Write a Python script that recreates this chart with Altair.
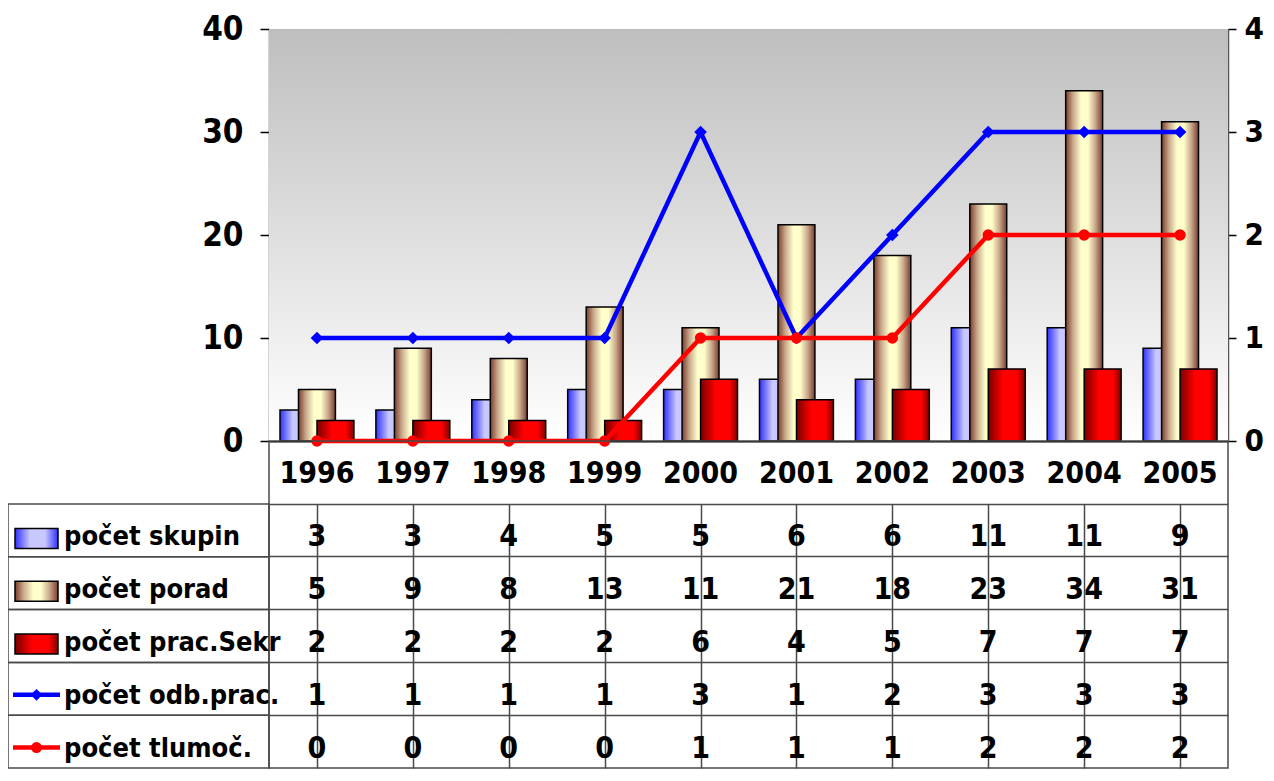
import altair as alt
import pandas as pd

years = ["1996", "1997", "1998", "1999", "2000", "2001", "2002", "2003", "2004", "2005"]
skupin = [3, 3, 4, 5, 5, 6, 6, 11, 11, 9]
porad = [5, 9, 8, 13, 11, 21, 18, 23, 34, 31]
sekr = [2, 2, 2, 2, 6, 4, 5, 7, 7, 7]
odb = [1, 1, 1, 1, 3, 1, 2, 3, 3, 3]
tlum = [0, 0, 0, 0, 1, 1, 1, 2, 2, 2]
series_names = ["počet skupin", "počet porad", "počet prac.Sekr", "počet odb.prac.", "počet tlumoč."]
left_ticks = [0, 10, 20, 30, 40]
right_ticks = [0, 1, 2, 3, 4]

FONT = "Liberation Sans Narrow, Arial Narrow, DejaVu Sans Condensed, sans-serif"

df = pd.DataFrame({"year": years, "skupin": skupin, "porad": porad,
                   "sekr": sekr, "odb": odb, "tlum": tlum})
long_df = pd.DataFrame({
    "series": [s for s in series_names for _ in years],
    "year": years * len(series_names),
    "value": skupin + porad + sekr + odb + tlum,
})


def grad(stops, vertical=False):
    return alt.Gradient(
        gradient="linear",
        x1=0, y1=0, x2=0 if vertical else 1, y2=1 if vertical else 0,
        stops=[alt.GradientStop(offset=o, color=c) for o, c in stops],
    )


g_blue = grad([(0, "#3030ff"), (0.35, "#c8c8ff"), (0.7, "#c8c8ff"), (1, "#3030ff")])
g_porad = grad([(0, "#7a3c2c"), (0.2, "#c9a98c"), (0.42, "#ffffcc"), (0.6, "#ffffcc"),
                (0.8, "#c9a98c"), (1, "#7a3c2c")])
g_red = grad([(0, "#780000"), (0.4, "#ff0000"), (0.78, "#ff0000"), (1, "#800000")])
g_bg = grad([(0, "#bebebe"), (1, "#ffffff")], vertical=True)

AX_FS = 33
TB_FS = 30

# ---------------- top chart ----------------
x_top = alt.X(
    "year:O", sort=years,
    scale=alt.Scale(paddingInner=0, paddingOuter=0),
    axis=alt.Axis(title=None, labelAngle=0, labelFont=FONT, labelFontSize=TB_FS,
                  labelFontWeight="bold", labelColor="black", labelPadding=32,
                  labelBaseline="middle", ticks=False, domainColor="black",
                  domainWidth=2),
)

y_left_axis = alt.Axis(title=None, values=left_ticks, labelFont=FONT, labelFontSize=AX_FS,
                       labelFontWeight="bold", labelColor="black", tickSize=9,
                       tickColor="black", tickWidth=1.5, domainColor="#555",
                       domainWidth=1.5, labelPadding=17, grid=False)
y_scale_left = alt.Scale(domain=[0, 40], nice=False)

bg = alt.Chart(pd.DataFrame({"k": [0]})).mark_rect(fill=g_bg).encode(
    x=alt.value(0), x2=alt.value("width"), y=alt.value(0), y2=alt.value("height"))

bar_w = alt.RelativeBandSize(0.385)
b_skupin = alt.Chart(df).mark_bar(fill=g_blue, stroke="black", strokeWidth=1.5,
                                  width=bar_w, xOffset=-18.5).encode(
    x=x_top, y=alt.Y("skupin:Q", scale=y_scale_left, axis=y_left_axis))
b_porad = alt.Chart(df).mark_bar(fill=g_porad, stroke="black", strokeWidth=1.5,
                                 width=bar_w).encode(
    x=x_top, y=alt.Y("porad:Q", scale=y_scale_left, axis=y_left_axis))
b_sekr = alt.Chart(df).mark_bar(fill=g_red, stroke="black", strokeWidth=1.5,
                                width=bar_w, xOffset=18.5).encode(
    x=x_top, y=alt.Y("sekr:Q", scale=y_scale_left, axis=y_left_axis))

y_right_axis = alt.Axis(title=None, orient="right", values=right_ticks, labelFont=FONT,
                        labelFontSize=31, labelFontWeight="bold", labelColor="black",
                        tickSize=8, tickColor="black", tickWidth=1.5, domainColor="#555",
                        domainWidth=1.5, labelPadding=8, grid=False)
y_scale_right = alt.Scale(domain=[0, 4], nice=False)

l_odb = alt.Chart(df).mark_line(
    color="#0000ff", strokeWidth=4.5,
    point=alt.OverlayMarkDef(shape="diamond", size=160, filled=True, color="#0000ff"),
).encode(x=x_top, y=alt.Y("odb:Q", scale=y_scale_right, axis=y_right_axis))
l_tlum = alt.Chart(df).mark_line(
    color="#ff0000", strokeWidth=4.5,
    point=alt.OverlayMarkDef(shape="circle", size=130, filled=True, color="#ff0000"),
).encode(x=x_top, y=alt.Y("tlum:Q", scale=y_scale_right, axis=y_right_axis))

top = alt.layer(
    alt.layer(bg, b_skupin, b_porad, b_sekr),
    alt.layer(l_odb, l_tlum),
).resolve_scale(y="independent").properties(
    width=959, height=412, view=alt.ViewBackground(stroke="#999", strokeWidth=1))

# ---------------- data table ----------------
LINE = "#4a4a4a"
B_H = 327
x_b = alt.X("year:O", sort=years, scale=alt.Scale(paddingInner=0, paddingOuter=0),
            axis=alt.Axis(title=None, labels=False, ticks=False, domain=False, grid=True,
                          bandPosition=0, gridColor=LINE, gridWidth=1.5, orient="top"))
y_b = alt.Y("series:N", sort=series_names,
            scale=alt.Scale(range=[63, B_H], paddingInner=0, paddingOuter=0),
            axis=alt.Axis(title=None, labels=False, ticks=False, domain=False, grid=True,
                          bandPosition=0, gridColor=LINE, gridWidth=1.5, minExtent=0))

vals = alt.Chart(long_df).mark_text(font=FONT, fontSize=TB_FS, fontWeight="bold",
                                    color="black", dy=7).encode(
    x=x_b, y=y_b, text="value:Q")

lab_df = pd.DataFrame({"series": series_names})
lab_box = alt.Chart(lab_df).mark_rect(fill="white", fillOpacity=0, stroke=LINE,
                                      strokeWidth=1.5).encode(
    x=alt.value(-261), x2=alt.value(0), y=y_b)
lab_txt = alt.Chart(lab_df).mark_text(font=FONT, fontSize=27, fontWeight="bold",
                                      color="black", align="left", dy=7).encode(
    x=alt.value(-205), y=y_b, text="series:N")

RECT = "M-1,-0.465L1,-0.465L1,0.465L-1,0.465Z"


def swatch(name, fill):
    return alt.Chart(pd.DataFrame({"series": [name]})).mark_point(
        shape=RECT, size=43 * 43, filled=True, fill=fill, stroke="black",
        strokeWidth=1.5, opacity=1, yOffset=8).encode(x=alt.value(-232.5), y=y_b)


def line_key(name, color, shape, size):
    base = alt.Chart(pd.DataFrame({"series": [name]}))
    ln = base.mark_point(shape="M-1,0L1,0", size=47 * 47, filled=False, stroke=color,
                         strokeWidth=4.5, opacity=1, yOffset=6).encode(
        x=alt.value(-232.5), y=y_b)
    mk = base.mark_point(shape=shape, size=size, filled=True, color=color, opacity=1,
                         yOffset=6).encode(x=alt.value(-232.5), y=y_b)
    return alt.layer(ln, mk)


bottom = alt.layer(
    lab_box, vals, lab_txt,
    swatch(series_names[0], g_blue),
    swatch(series_names[1], g_porad),
    swatch(series_names[2], g_red),
    line_key(series_names[3], "#0000ff", "diamond", 140),
    line_key(series_names[4], "#ff0000", "circle", 120),
).properties(width=959, height=B_H,
             view=alt.ViewBackground(stroke=LINE, strokeWidth=1.5))

chart = alt.vconcat(top, bottom, spacing=0, bounds="flush").properties(
    padding={"left": -5, "top": 4, "right": 0, "bottom": 0},
    background="white",
)

chart.save("out.html", embed_options={"renderer": "svg", "actions": False})
